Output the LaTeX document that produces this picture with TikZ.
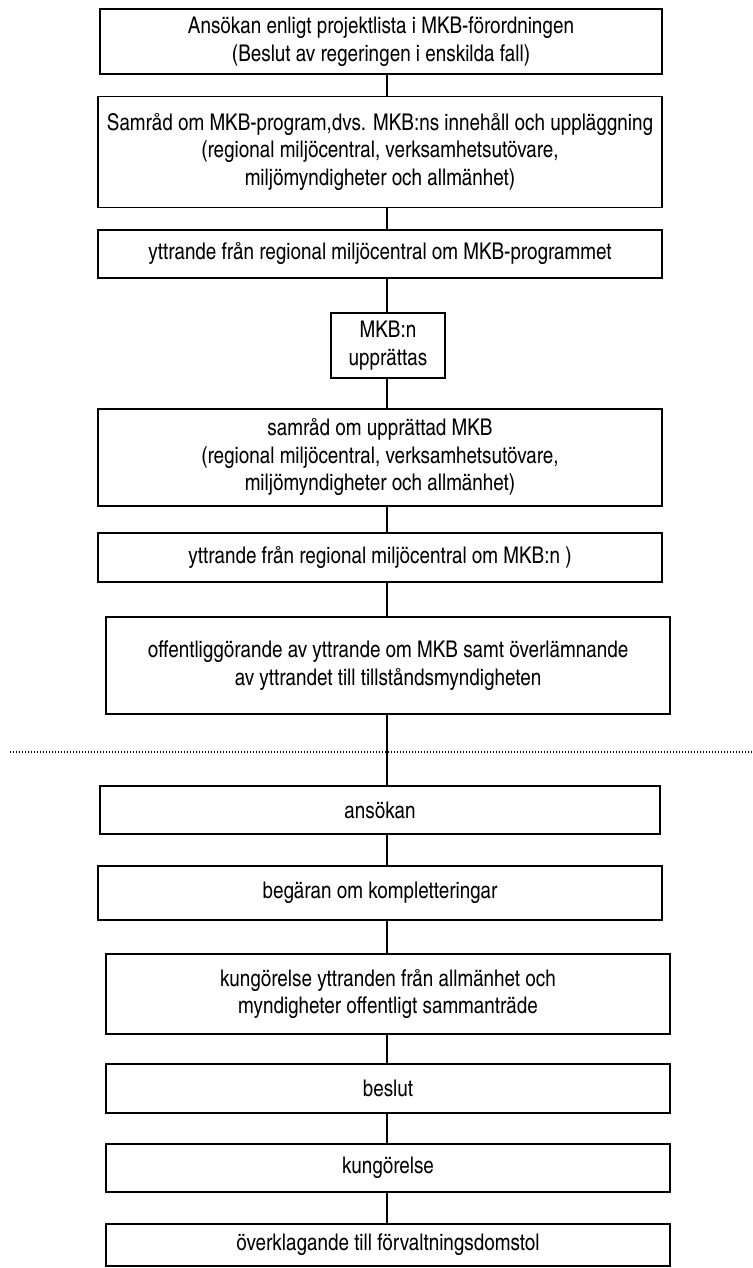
\documentclass[tikz,border=0pt]{standalone}
\usepackage{fontspec}
\setmainfont{texgyreheroscn-regular.otf}
\begin{document}
\begin{tikzpicture}[x=1pt,y=-1pt,
  box/.style={draw, line width=1.8pt, inner sep=0pt, align=center,
    font=\fontsize{23}{27.5}\selectfont},
  link/.style={line width=1.8pt},
  divider/.style={line width=1.2pt, dash pattern=on 1.2pt off 1.8pt}]
  \useasboundingbox (0,0) rectangle (752,1268);
  % vertical spine shared by all connectors
  \coordinate (spine) at (387,0);

  \node[box, minimum width=562pt, minimum height=65pt] (b1) at (381,41.5)
    {Ansökan enligt projektlista i MKB-förordningen\\(Beslut av regeringen i enskilda fall)};
  \node[box, minimum width=564pt, minimum height=111pt] (b2) at (380,152)
    {Samråd om MKB-program,dvs. MKB:ns innehåll och uppläggning\\(regional miljöcentral, verksamhetsutövare,\\miljömyndigheter och allmänhet)};
  \node[box, minimum width=564pt, minimum height=48pt] (b3) at (380,254)
    {yttrande från regional miljöcentral om MKB-programmet};
  \node[box, minimum width=114pt, minimum height=65pt] (b4) at (388,345.5)
    {MKB:n\\upprättas};
  \node[box, minimum width=564pt, minimum height=97pt] (b5) at (380,457.5)
    {samråd om upprättad MKB\\(regional miljöcentral, verksamhetsutövare,\\miljömyndigheter och allmänhet)};
  \node[box, minimum width=564pt, minimum height=49pt] (b6) at (380,557.5)
    {yttrande från regional miljöcentral om MKB:n )};
  \node[box, minimum width=564pt, minimum height=97pt] (b7) at (388,665.5)
    {offentliggörande av yttrande om MKB samt överlämnande\\av yttrandet till tillståndsmyndigheten};

  % boundary between the two phases
  \coordinate (divL) at (10,752);
  \coordinate (divR) at (752,752);
  \draw[divider] (divL) -- (divR);

  \node[box, minimum width=560pt, minimum height=48pt] (b8) at (380,810)
    {ansökan};
  \node[box, minimum width=564pt, minimum height=54pt] (b9) at (380,893)
    {begäran om kompletteringar};
  \node[box, minimum width=564pt, minimum height=80pt] (b10) at (388,994)
    {kungörelse yttranden från allmänhet och\\myndigheter offentligt sammanträde};
  \node[box, minimum width=564pt, minimum height=49pt] (b11) at (388,1088.5)
    {beslut};
  \node[box, minimum width=564pt, minimum height=48pt] (b12) at (388,1168)
    {kungörelse};
  \node[box, minimum width=564pt, minimum height=42pt] (b13) at (388,1245)
    {överklagande till förvaltningsdomstol};

  \foreach \a/\b in {b1/b2,b2/b3,b3/b4,b4/b5,b5/b6,b6/b7,b7/b8,b8/b9,b9/b10,b10/b11,b11/b12,b12/b13}
    \draw[link] (\a.south -| spine) -- (\b.north -| spine);
\end{tikzpicture}
\end{document}
